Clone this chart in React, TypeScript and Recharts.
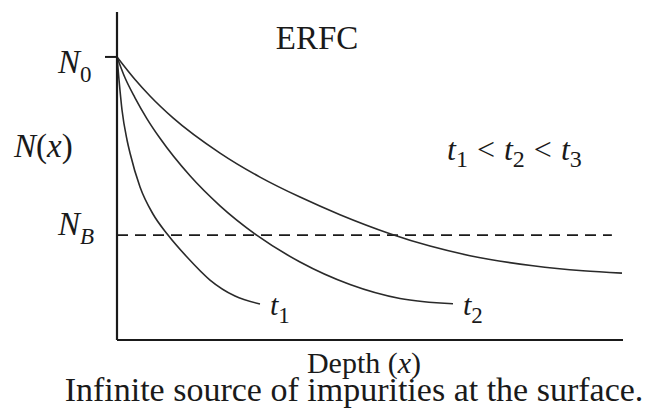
import { LineChart, Line, XAxis, YAxis, ReferenceLine, Label, Customized } from 'recharts'

// Concentration profiles for three diffusion times (depth in %, N in % of axis height)
const depthT1 = [0, 0.4, 0.99, 1.98, 2.57, 4.55, 7.11, 10.08, 13.83, 18.38, 23.32, 28.26]
const concT1 = [86.3, 79.27, 70.12, 60.98, 57.01, 46.65, 38.41, 32.01, 25.3, 18.29, 13.41, 10.98]

const depthT2 = [0, 1.58, 3.56, 5.93, 8.5, 14.43, 20.36, 27.67, 36.17, 46.05, 55.93, 66.4]
const concT2 = [86.3, 79.94, 73.84, 67.44, 61.49, 50.06, 40.91, 31.89, 23.78, 16.92, 12.65, 11.04]

const depthT3 = [0, 3.56, 6.52, 11.07, 20.36, 28.26, 36.17, 44.07, 53.95, 61.86, 69.76, 82.21, 92.09, 99.8]
const concT3 = [86.3, 79.42, 74.39, 67.71, 56.98, 49.66, 43.57, 38.2, 32.41, 28.63, 25.7, 22.62, 21.1, 20.4]

// Surface concentration and background level
const N0 = 86.3
const NB = 32
const BACKGROUND_END = 97.8

const curveNames = ['1', '2', '3']

const SERIF = "'Liberation Serif', 'Times New Roman', Times, serif"
const INK = '#1a1a1a'
const serif = { fontFamily: SERIF }

const toPoints = (xs: number[], ys: number[]) => xs.map((x, i) => ({ x, y: ys[i] }))
const series = [toPoints(depthT1, concT1), toPoints(depthT2, concT2), toPoints(depthT3, concT3)]

// Curve name written just past the last point of each line
const endDot = (sub: string, last: number) => (props: any) => {
  const { cx, cy, index } = props
  if (index !== last) return <g key={`d-${sub}-${index}`} />
  return (
    <text key={`d-${sub}-${index}`} x={cx + 10} y={cy + 11} style={serif} fontSize={30} fill={INK}>
      <tspan fontStyle="italic">t</tspan>
      <tspan dy={8} fontSize={23}>{sub}</tspan>
    </text>
  )
}

const YTick = (props: any) => {
  const { x, y, payload } = props
  const isSurface = payload.value === N0
  const sub = isSurface ? '0' : 'B'
  return (
    <g>
      {isSurface && <line x1={x - 12} x2={x} y1={y} y2={y} stroke={INK} strokeWidth={2} />}
      <text x={x - 59} y={isSurface ? y + 16 : y} style={serif} fontSize={33} fill={INK}>
        <tspan fontStyle="italic">N</tspan>
        <tspan dy={9} fontSize={23} fontStyle={isSurface ? 'normal' : 'italic'}>{sub}</tspan>
      </text>
    </g>
  )
}

const AxisTitle = (props: any) => {
  const { viewBox } = props
  const cx = viewBox.x + viewBox.width / 2
  return (
    <g style={serif} fill={INK}>
      <text x={cx - 6} y={viewBox.y + 33} textAnchor="middle" fontSize={30} style={serif}>
        Depth (<tspan fontStyle="italic">x</tspan>)
      </text>
      <text x={cx - 16} y={viewBox.y + 61} textAnchor="middle" fontSize={34} style={serif}>
        Infinite source of impurities at the surface.
      </text>
    </g>
  )
}

const Annotations = () => (
  <g style={serif} fill={INK}>
    <text x={317} y={49} textAnchor="middle" fontSize={33} style={serif}>ERFC</text>
    <text x={14} y={157} fontSize={33} style={serif}>
      <tspan fontStyle="italic">N</tspan>(<tspan fontStyle="italic">x</tspan>)
    </text>
    <text x={447} y={160} fontSize={32} style={serif}>
      <tspan fontStyle="italic">t</tspan>
      <tspan dy={7} fontSize={24}>1</tspan>
      <tspan dy={-7} dx={9}>&lt;</tspan>
      <tspan dx={9} fontStyle="italic">t</tspan>
      <tspan dy={7} fontSize={24}>2</tspan>
      <tspan dy={-7} dx={9}>&lt;</tspan>
      <tspan dx={9} fontStyle="italic">t</tspan>
      <tspan dy={7} fontSize={24}>3</tspan>
    </text>
  </g>
)

export default function App() {
  return (
    <div style={{ position: 'absolute', left: 0, top: 0, background: '#fff', fontFamily: SERIF }}>
      <LineChart width={648} height={411} margin={{ top: 12, right: 25, left: 0, bottom: 0 }}>
        <XAxis
          type="number"
          dataKey="x"
          domain={[0, 100]}
          allowDataOverflow
          tick={false}
          tickLine={false}
          axisLine={{ stroke: INK, strokeWidth: 2.2 }}
          height={71}
        >
          <Label content={<AxisTitle />} />
        </XAxis>
        <YAxis
          type="number"
          dataKey="y"
          domain={[0, 100]}
          allowDataOverflow
          ticks={[N0, NB]}
          interval={0}
          tick={<YTick />}
          tickLine={false}
          tickSize={0}
          tickMargin={0}
          axisLine={{ stroke: INK, strokeWidth: 2.2 }}
          width={117}
        />
        <ReferenceLine
          segment={[{ x: 0, y: NB }, { x: BACKGROUND_END, y: NB }]}
          stroke={INK}
          strokeWidth={1.8}
          strokeDasharray="11 7"
        />
        {series.map((data, i) => (
          <Line
            key={curveNames[i]}
            data={data}
            dataKey="y"
            type="monotone"
            stroke="#2a2a2a"
            strokeWidth={1.6}
            dot={endDot(curveNames[i], data.length - 1)}
            activeDot={false}
            isAnimationActive={false}
          />
        ))}
        <Customized component={Annotations} />
      </LineChart>
    </div>
  )
}
